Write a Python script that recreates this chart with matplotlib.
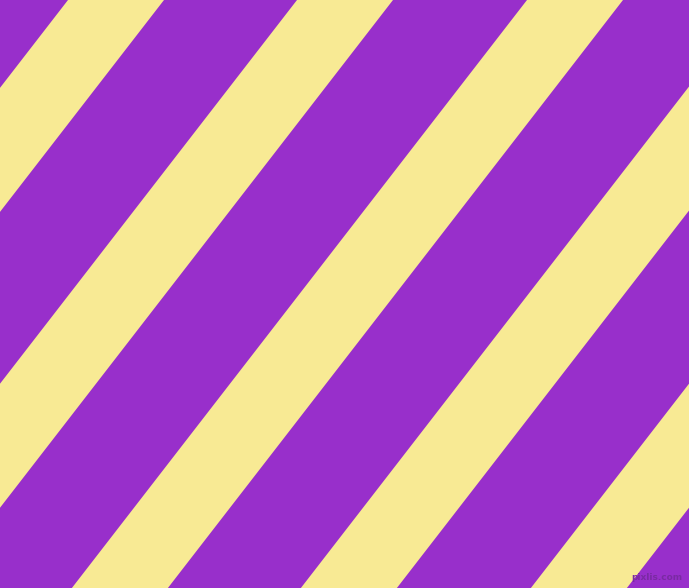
import matplotlib
matplotlib.use("Agg")
import matplotlib.pyplot as plt
from matplotlib.patches import Polygon

width_px = 689
height_px = 588

# x position of each yellow band's left edge along the top row, and its width
band_starts = [-162, 68, 297, 527, 756, 986]
band_width = 96
# horizontal shift of an edge per pixel downwards (edges go down-left)
shift_per_px = 0.774

purple = "#982FCB"
yellow = "#F8EA94"

fig = plt.figure(figsize=(width_px / 100, height_px / 100), dpi=100)
ax = fig.add_axes([0, 0, 1, 1])
ax.set_xlim(0, width_px)
ax.set_ylim(height_px, 0)
ax.axis("off")
ax.set_facecolor(purple)
fig.patch.set_facecolor(purple)

drop = height_px * shift_per_px
for x0 in band_starts:
    pts = [(x0, 0), (x0 + band_width, 0),
           (x0 + band_width - drop, height_px), (x0 - drop, height_px)]
    ax.add_patch(Polygon(pts, closed=True, facecolor=yellow, edgecolor="none"))

ax.text(682, 578, "pixlis.com", color="#7A2AA3", fontsize=6.5,
        ha="right", va="center", fontweight="bold")

fig.savefig("out.png", dpi=100, facecolor=purple)
